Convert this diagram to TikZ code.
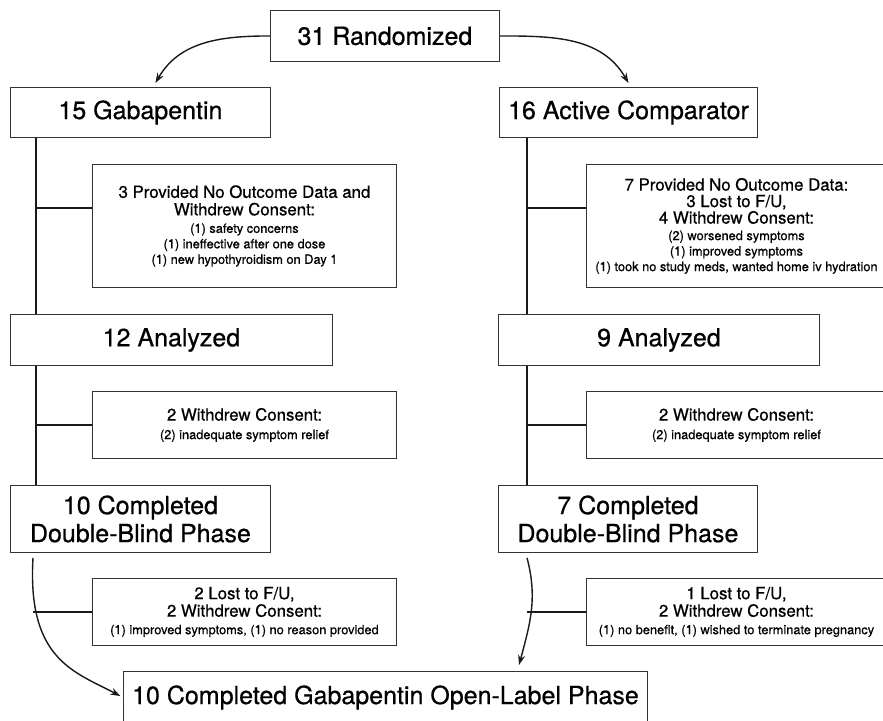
\documentclass[tikz,border=0pt]{standalone}
\usepackage{fontspec}
\setmainfont[FakeBold = 0.6]{TeX Gyre Heros}
\usetikzlibrary{arrows.meta}

\newcommand{\headtxt}[1]{{\fontsize{16.8}{18}\selectfont #1}}

\tikzset{
  stage/.style = {
    rectangle, draw = black!80, line width = 0.9pt, anchor = north west,
    inner sep = 0pt, align = center, font = \fontsize{25}{28}\selectfont
  },
  dropout/.style = {
    rectangle, draw = black!80, line width = 0.9pt, anchor = north west,
    inner sep = 0pt, align = center, font = \fontsize{12.8}{15.5}\selectfont
  },
  link/.style = {draw = black!90, line width = 1.4pt},
  flow/.style = {link, -{Stealth[length = 10pt, width = 7pt]}}
}

\begin{document}
\begin{tikzpicture}[x = 1pt, y = 1pt]
      \useasboundingbox (0,0) rectangle (883,-720);
      \clip (0,0) rectangle (883,-720);
      % stages
      \node [stage, minimum width = 229pt, minimum height = 51pt] (rand)
        at (270,-10) {31 Randomized};
      \node [stage, minimum width = 260pt, minimum height = 50pt] (gab)
        at (10,-87) {15 Gabapentin};
      \node [stage, minimum width = 258pt, minimum height = 50pt] (act)
        at (499,-87) {16 Active Comparator};
      \node [stage, minimum width = 322pt, minimum height = 51pt] (ana-gab)
        at (10,-314) {12 Analyzed};
      \node [stage, minimum width = 321pt, minimum height = 51pt] (ana-act)
        at (498,-314) {9 Analyzed};
      \node [stage, minimum width = 260pt, minimum height = 67pt] (dbl-gab)
        at (10,-485) {10 Completed\\Double-Blind Phase};
      \node [stage, minimum width = 259pt, minimum height = 67pt] (dbl-act)
        at (498,-485) {7 Completed\\Double-Blind Phase};
      \node [stage, minimum width = 524pt, minimum height = 52pt] (final)
        at (123,-671) {10 Completed Gabapentin Open-Label Phase};
      % dropouts
      \node [dropout, minimum width = 304pt, minimum height = 123pt] (why-gab)
        at (92,-164) {\headtxt{3 Provided No Outcome Data and}\\[2pt]
          \headtxt{Withdrew Consent:}\\[2pt] (1) safety concerns\\
          (1) ineffective after one dose\\ (1) new hypothyroidism on Day 1};
      \node [dropout, minimum width = 300pt, minimum height = 123pt] (why-act)
        at (586,-164) {\headtxt{7 Provided No Outcome Data:}\\[1pt]
          \headtxt{3 Lost to F/U,}\\[1pt] \headtxt{4 Withdrew Consent:}\\[1pt]
          (2) worsened symptoms\\ (1) improved symptoms\\
          (1) took no study meds, wanted home iv hydration};
      \node [dropout, minimum width = 304pt, minimum height = 67pt] (wd-gab)
        at (92,-391) {\headtxt{2 Withdrew Consent:}\\[3pt]
          (2) inadequate symptom relief};
      \node [dropout, minimum width = 300pt, minimum height = 67pt] (wd-act)
        at (586,-391) {\headtxt{2 Withdrew Consent:}\\[3pt]
          (2) inadequate symptom relief};
      \node [dropout, minimum width = 304pt, minimum height = 67pt] (ol-gab)
        at (92,-578) {\headtxt{2 Lost to F/U,}\\[2pt]
          \headtxt{2 Withdrew Consent:}\\[2pt]
          (1) improved symptoms, (1) no reason provided};
      \node [dropout, minimum width = 300pt, minimum height = 67pt] (ol-act)
        at (586,-578) {\headtxt{1 Lost to F/U,}\\[2pt]
          \headtxt{2 Withdrew Consent:}\\[2pt]
          (1) no benefit, (1) wished to terminate pregnancy};
      % trunks
      \coordinate (l-top) at ([xshift = 26pt] gab.south west);
      \coordinate (r-top) at ([xshift = 28pt] act.south west);
      \draw [link] (l-top) -- (l-top |- ana-gab.north);
      \draw [link] (ana-gab.south -| l-top) -- (l-top |- dbl-gab.north);
      \draw [link] (r-top) -- (r-top |- ana-act.north);
      \draw [link] (ana-act.south -| r-top) -- (r-top |- dbl-act.north);
      % branches
      \coordinate (b-gab) at ([yshift = 18pt] why-gab.west);
      \coordinate (b-act) at ([yshift = 18pt] why-act.west);
      \draw [link] (b-gab) -- (b-gab -| l-top);
      \draw [link] (b-act) -- (b-act -| r-top);
      \draw [link] (wd-gab.west) -- (wd-gab.west -| l-top);
      \draw [link] (wd-act.west) -- (wd-act.west -| r-top);
      % arrows
      \draw [flow] (rand.west) to [out = 180, in = 60]
        ([xshift = 15pt, yshift = 4pt] gab.north);
      \draw [flow] (rand.east) to [out = 0, in = 120]
        ([yshift = 4pt] act.north);
      \coordinate (l-start) at ([xshift = 23pt, yshift = -5pt] dbl-gab.south west);
      \coordinate (r-start) at ([xshift = 29pt, yshift = -5pt] dbl-act.south west);
      \path (final.north -| r-start) ++(-8,6) coordinate (r-end);
      \draw [flow, shorten > = 3pt] (l-start) .. controls (27,-660) and (75,-672)
        .. (final.west);
      \draw [flow] (r-start) to [out = -75, in = 75] (r-end);
      \draw [link] (ol-gab.west) -- (ol-gab.west -| l-start);
      \draw [link] (ol-act.west) -- (ol-act.west -| r-start);
    \end{tikzpicture}
\end{document}
